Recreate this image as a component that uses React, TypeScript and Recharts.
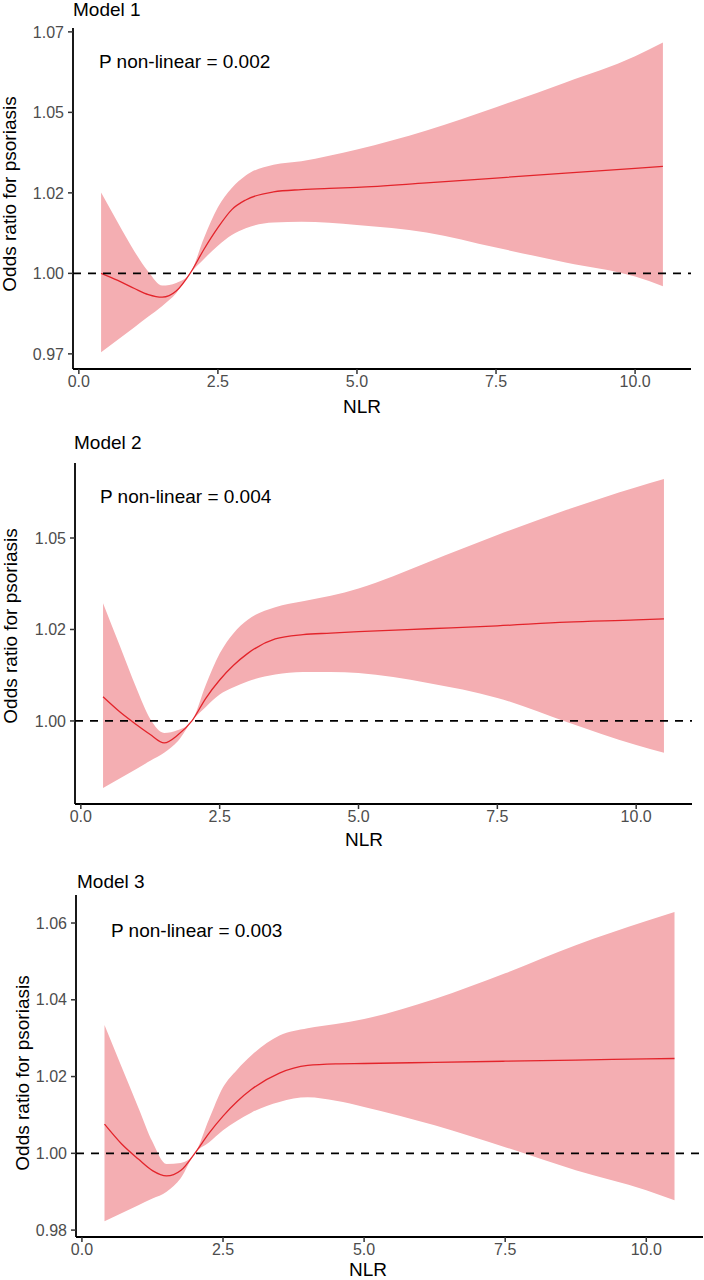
import React from "react";
import { ComposedChart, Area, Line, XAxis, YAxis, ReferenceLine } from "recharts";

const nlr = [0.4, 0.7, 1.0, 1.25, 1.5, 1.75, 2.0, 2.25, 2.5, 2.75, 3.0, 3.5, 4.0, 4.5, 5.0, 6.25, 7.5, 8.75, 10.0, 10.5];

const m1Or = [1.0, 0.9978, 0.9953, 0.9934, 0.9926, 0.9945, 1.0, 1.0075, 1.0142, 1.0198, 1.0228, 1.0253, 1.026, 1.0264, 1.0267, 1.0281, 1.0296, 1.0311, 1.0326, 1.0332];
const m1Lower = [0.9755, 0.9794, 0.9833, 0.9866, 0.9899, 0.9938, 1.0, 1.0045, 1.0086, 1.0119, 1.014, 1.0158, 1.016, 1.0157, 1.015, 1.0127, 1.008, 1.0034, 0.999, 0.996];
const m1Upper = [1.0251, 1.0158, 1.0068, 1.0005, 0.9962, 0.997, 1.0, 1.011, 1.0205, 1.0265, 1.0304, 1.0337, 1.0348, 1.0365, 1.0385, 1.0444, 1.0516, 1.0593, 1.0674, 1.0717];

const m2Or = [1.0066, 1.0025, 0.999, 0.9963, 0.994, 0.9962, 1.0, 1.0062, 1.0112, 1.0152, 1.0184, 1.0224, 1.0236, 1.024, 1.0244, 1.0252, 1.026, 1.027, 1.0276, 1.0279];
const m2Lower = [0.9817, 0.9843, 0.9869, 0.9891, 0.9913, 0.9945, 1.0, 1.0038, 1.0072, 1.0092, 1.0108, 1.0127, 1.0134, 1.0134, 1.0131, 1.0104, 1.0063, 0.9997, 0.9934, 0.9913];
const m2Upper = [1.0322, 1.0206, 1.009, 1.0005, 0.9967, 0.9975, 1.0, 1.0098, 1.0184, 1.024, 1.0276, 1.0311, 1.0327, 1.0342, 1.0362, 1.0434, 1.0508, 1.0577, 1.0639, 1.0661];

const m3Or = [1.0076, 1.0025, 0.9985, 0.9955, 0.9941, 0.9955, 1.0, 1.0052, 1.0097, 1.0135, 1.0166, 1.0209, 1.0229, 1.0233, 1.0234, 1.0237, 1.024, 1.0243, 1.0246, 1.0247];
const m3Lower = [0.9823, 0.9844, 0.9865, 0.9882, 0.99, 0.9935, 1.0, 1.0028, 1.006, 1.0085, 1.0106, 1.0134, 1.0146, 1.0137, 1.0121, 1.0073, 1.0016, 0.9956, 0.9904, 0.9878];
const m3Upper = [1.0334, 1.0226, 1.0119, 1.003, 0.9972, 0.9975, 1.0, 1.0088, 1.0172, 1.0218, 1.0255, 1.0307, 1.0326, 1.0337, 1.035, 1.0402, 1.0469, 1.0542, 1.0605, 1.0629];

const xTicks = [0, 2.5, 5, 7.5, 10];
const m1YTicks = [0.975, 1.0, 1.025, 1.05, 1.075];
const m1YLabels = ["0.97", "1.00", "1.02", "1.05", "1.07"];
const m2YTicks = [1.0, 1.025, 1.05];
const m2YLabels = ["1.00", "1.02", "1.05"];
const m3YTicks = [0.98, 1.0, 1.02, 1.04, 1.06];
const m3YLabels = ["0.98", "1.00", "1.02", "1.04", "1.06"];

const FONT = "'Liberation Sans', Arial, sans-serif";
const BAND = "#F4AEB2";
const RED = "#E3242B";

const panels = [
  {
    title: "Model 1", p: "P non-linear = 0.002",
    or: m1Or, lower: m1Lower, upper: m1Upper,
    yTicks: m1YTicks, yLabels: m1YLabels, yDomain: [0.9703, 1.0762],
    top: 0, height: 420, plotTop: 28, plotBottom: 369, plotLeft: 73, plotRight: 691,
    titleX: 73, titleY: 16, pX: 99, pY: 68, xLabX: 362, xLabY: 413, yLabX: 16, yLabY: 194,
  },
  {
    title: "Model 2", p: "P non-linear = 0.004",
    or: m2Or, lower: m2Lower, upper: m2Upper,
    yTicks: m2YTicks, yLabels: m2YLabels, yDomain: [0.9773, 1.0705],
    top: 420, height: 430, plotTop: 463, plotBottom: 804, plotLeft: 75, plotRight: 692,
    titleX: 74, titleY: 449, pX: 100, pY: 503, xLabX: 364, xLabY: 846, yLabX: 16.5, yLabY: 626,
  },
  {
    title: "Model 3", p: "P non-linear = 0.003",
    or: m3Or, lower: m3Lower, upper: m3Upper,
    yTicks: m3YTicks, yLabels: m3YLabels, yDomain: [0.9782, 1.0673],
    top: 850, height: 430, plotTop: 895, plotBottom: 1237, plotLeft: 76, plotRight: 703,
    titleX: 77, titleY: 888, pX: 111, pY: 937, xLabX: 368, xLabY: 1276, yLabX: 29, yLabY: 1073,
  },
];

function Panel({ cfg }: { cfg: any }) {
  const data = nlr.map((x, i) => ({ nlr: x, or: cfg.or[i], band: [cfg.lower[i], cfg.upper[i]] }));
  const t = cfg.top;
  return (
    <div style={{ position: "absolute", left: 0, top: t, width: 704, height: cfg.height }}>
      <ComposedChart
        width={704}
        height={cfg.height}
        data={data}
        margin={{ top: cfg.plotTop - t, right: 704 - cfg.plotRight, left: 0, bottom: 0 }}
      >
        <XAxis
          dataKey="nlr"
          type="number"
          domain={[-0.105, 11.005]}
          ticks={xTicks}
          allowDataOverflow
          height={t + cfg.height - cfg.plotBottom}
          tickFormatter={(v: number) => v.toFixed(1)}
          tick={{ fill: "#4D4D4D", fontSize: 16 }}
          tickSize={5}
          tickMargin={2}
          tickLine={{ stroke: "#333", strokeWidth: 1.5 }}
          axisLine={{ stroke: "#000", strokeWidth: 1.8 }}
          label={() => (
            <text x={cfg.xLabX} y={cfg.xLabY - t} textAnchor="middle" fontSize={19} fill="#000">
              NLR
            </text>
          )}
        />
        <YAxis
          type="number"
          domain={cfg.yDomain}
          ticks={cfg.yTicks}
          allowDataOverflow
          width={cfg.plotLeft}
          tickFormatter={(v: number) => cfg.yLabels[cfg.yTicks.indexOf(v)]}
          tick={{ fill: "#4D4D4D", fontSize: 16 }}
          tickSize={5}
          tickMargin={4}
          tickLine={{ stroke: "#333", strokeWidth: 1.5 }}
          axisLine={{ stroke: "#000", strokeWidth: 1.8 }}
          label={() => (
            <text
              x={cfg.yLabX}
              y={cfg.yLabY - t}
              textAnchor="middle"
              fontSize={19}
              fill="#000"
              transform={`rotate(-90 ${cfg.yLabX} ${cfg.yLabY - t})`}
            >
              Odds ratio for psoriasis
            </text>
          )}
        />
        <Area
          type="monotone"
          dataKey="band"
          stroke="none"
          fill={BAND}
          fillOpacity={1}
          isAnimationActive={false}
        />
        <Line
          type="monotone"
          dataKey="or"
          stroke={RED}
          strokeWidth={1.3}
          dot={false}
          activeDot={false}
          isAnimationActive={false}
        />
        <ReferenceLine y={1} stroke="#000" strokeWidth={1.8} strokeDasharray="8 7" />
      </ComposedChart>
      <svg width={704} height={cfg.height} style={{ position: "absolute", left: 0, top: 0, pointerEvents: "none" }}>
        <text x={cfg.titleX} y={cfg.titleY - t} fontSize={19} fill="#000">
          {cfg.title}
        </text>
        <text x={cfg.pX} y={cfg.pY - t} fontSize={19} fill="#000">
          {cfg.p}
        </text>
      </svg>
    </div>
  );
}

export default function App() {
  return (
    <div style={{ position: "absolute", left: 0, top: 0, width: 704, height: 1280, background: "#fff", fontFamily: FONT }}>
      {panels.map((cfg) => (
        <Panel key={cfg.title} cfg={cfg} />
      ))}
    </div>
  );
}
